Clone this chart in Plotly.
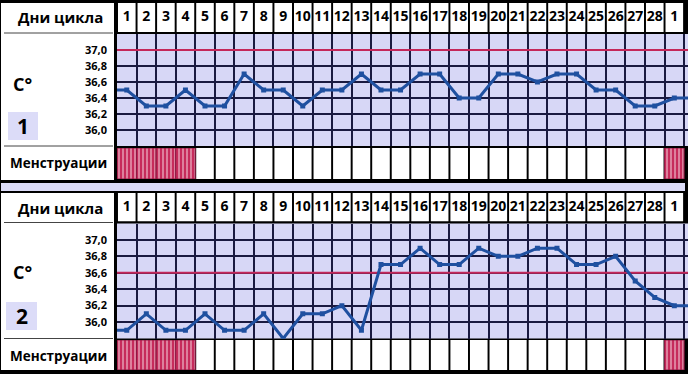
import plotly.graph_objects as go

W, H = 688, 374

# ---------------- data ----------------
day_labels = ["1", "2", "3", "4", "5", "6", "7", "8", "9", "10", "11", "12", "13", "14",
              "15", "16", "17", "18", "19", "20", "21", "22", "23", "24", "25", "26",
              "27", "28", "1"]
temps1 = [36.5, 36.3, 36.3, 36.5, 36.3, 36.3, 36.7, 36.5, 36.5, 36.3, 36.5, 36.5, 36.7, 36.5,
          36.5, 36.7, 36.7, 36.4, 36.4, 36.7, 36.7, 36.6, 36.7, 36.7, 36.5, 36.5, 36.3, 36.3, 36.4]
temps2 = [35.9, 36.1, 35.9, 35.9, 36.1, 35.9, 35.9, 36.1, 35.8, 36.1, 36.1, 36.2, 35.9, 36.7,
          36.7, 36.9, 36.7, 36.7, 36.9, 36.8, 36.8, 36.9, 36.9, 36.7, 36.7, 36.8, 36.5, 36.3, 36.2]
menses1 = [1, 1, 1, 1, 0, 0, 0, 0, 0, 0, 0, 0, 0, 0, 0, 0, 0, 0, 0, 0, 0, 0, 0, 0, 0, 0, 0, 0, 1]
menses2 = [1, 1, 1, 1, 0, 0, 0, 0, 0, 0, 0, 0, 0, 0, 0, 0, 0, 0, 0, 0, 0, 0, 0, 0, 0, 0, 0, 0, 1]
tick_vals = [35.8, 36.0, 36.2, 36.4, 36.6, 36.8, 37.0, 37.2]
tick_text = ["", "36,0", "36,2", "36,4", "36,6", "36,8", "37,0", ""]
cover1 = 37.0
cover2 = 36.6
panel_names = ["1", "2"]
header_title = "Дни цикла"
temp_title = "C°"
mens_title = "Менструации"

# ---------------- style ----------------
LAV = "#d7d7f6"
LAV2 = "#dcdcf8"
GRID = "#1a1a40"
RED = "#c4275a"
BLUE = "#1f50a0"
CRIMSON = "#c62b5b"
FONT = "Open Sans"

positions = list(range(1, len(day_labels) + 1))
X_RANGE = [0.5, len(day_labels) + 0.7]
X_DOM = [117 / W, 1.0]


def ydom(top, bottom):
    return [1 - bottom / H, 1 - top / H]


def py(p):
    return 1 - p / H


def pxx(p):
    return p / W


panels = [
    dict(temps=temps1, menses=menses1, cover=cover1, name=panel_names[0],
         header=(3, 32), temp=(34, 146), mens=(148, 179), area=(3, 180),
         ax_t=1, ax_h=3, ax_m=4,
         y_head=17, y_c=84, y_num=126, box=(8, 38, 112, 140), y_mens=163),
    dict(temps=temps2, menses=menses2, cover=cover2, name=panel_names[1],
         header=(193, 221.5), temp=(223.5, 338.5), mens=(340, 370), area=(193, 370),
         ax_t=2, ax_h=5, ax_m=6,
         y_head=208, y_c=272, y_num=316, box=(6, 37, 302, 330), y_mens=356),
]

fig = go.Figure()
shapes = []
annotations = []
layout_axes = {}


def axname(i, letter):
    return letter if i == 1 else f"{letter}{i}"


for p in panels:
    t, h, m = p["ax_t"], p["ax_h"], p["ax_m"]
    xt, yt = axname(t, "x"), axname(t, "y")
    xh, yh = axname(h, "x"), axname(h, "y")
    xm, ym = axname(m, "x"), axname(m, "y")

    # temperature axes
    layout_axes[axname(t, "xaxis")] = dict(
        domain=X_DOM, range=X_RANGE, anchor=yt, showgrid=True, tick0=0.5, dtick=1,
        gridcolor=GRID, gridwidth=2, showticklabels=False, zeroline=False, ticks="",
        showline=False, fixedrange=True, **({} if t == 1 else dict(matches="x")))
    layout_axes[axname(t, "yaxis")] = dict(
        domain=ydom(*p["temp"]), range=[tick_vals[0], tick_vals[-1]], anchor=xt,
        tickvals=tick_vals, ticktext=tick_text, showgrid=True, gridcolor=GRID, gridwidth=2,
        zeroline=False, ticks="", showline=False, ticklabelstandoff=9,
        tickfont=dict(family=FONT, size=11, color="black", weight="bold"), fixedrange=True)
    # header / menstruation axes
    for xa, ya, ai, dom in [(xh, yh, h, p["header"]), (xm, ym, m, p["mens"])]:
        layout_axes[axname(ai, "xaxis")] = dict(
            domain=X_DOM, range=X_RANGE, anchor=ya, matches="x", visible=False,
            showgrid=False, fixedrange=True)
        layout_axes[axname(ai, "yaxis")] = dict(
            domain=ydom(*dom), range=[0, 1], anchor=xa, visible=False, showgrid=False,
            fixedrange=True)

    # lavender temperature background
    shapes.append(dict(type="rect", xref="paper", yref="paper",
                       x0=X_DOM[0], x1=X_DOM[1], y0=ydom(*p["temp"])[0], y1=ydom(*p["temp"])[1],
                       fillcolor=LAV, line_width=0, layer="below"))

    # white label area on the left
    a0, a1 = p["area"]
    shapes.append(dict(type="rect", xref="paper", yref="paper", x0=pxx(1), x1=pxx(114),
                       y0=py(a1), y1=py(a0), fillcolor="white", line_width=0, layer="below"))
    # separators in label area
    for yy in (p["header"][1] + 1, p["temp"][1]):
        shapes.append(dict(type="line", xref="paper", yref="paper", x0=pxx(4), x1=pxx(113),
                           y0=py(yy), y1=py(yy), line=dict(color="#444444", width=1),
                           layer="below"))
    # number box
    bx0, bx1, by0, by1 = p["box"]
    shapes.append(dict(type="rect", xref="paper", yref="paper", x0=pxx(bx0), x1=pxx(bx1),
                       y0=py(by1), y1=py(by0), fillcolor=LAV2, line_width=0, layer="below"))

    # header cells
    fig.add_trace(go.Bar(x=positions, y=[1] * len(positions), width=0.9, base=0,
                         marker=dict(color="white", line_width=0),
                         xaxis=xh, yaxis=yh, hoverinfo="skip", showlegend=False))
    fig.add_trace(go.Scatter(x=positions, y=[0.5] * len(positions), mode="text",
                             text=day_labels,
                             textfont=dict(family=FONT, size=14, color="black", weight="bold"),
                             xaxis=xh, yaxis=yh, hoverinfo="skip", showlegend=False,
                             cliponaxis=False))
    # menstruation cells
    mens = p["menses"]
    fig.add_trace(go.Bar(
        x=positions, y=[1] * len(positions), base=0,
        width=[1.0 if v else 0.9 for v in mens],
        marker=dict(color=[CRIMSON if v else "white" for v in mens],
                    line=dict(color="#8d1a44", width=[1 if v else 0 for v in mens]),
                    pattern=dict(shape=["|" if v else "" for v in mens], fgcolor="white",
                                 size=4, solidity=0.4, fillmode="overlay")),
        xaxis=xm, yaxis=ym, hoverinfo="skip", showlegend=False))

    # cover (red) line
    fig.add_trace(go.Scatter(
        x=X_RANGE, y=[p["cover"], p["cover"]], mode="lines",
        line=dict(color=RED, width=2), xaxis=xt, yaxis=yt,
        hoverinfo="skip", showlegend=False))

    # temperature curve (extended flat to the grid edges)
    temps = p["temps"]
    fig.add_trace(go.Scatter(
        x=[X_RANGE[0]] + positions + [X_RANGE[1]],
        y=[temps[0]] + temps + [temps[-1]],
        mode="lines", line=dict(color=BLUE, width=3), xaxis=xt, yaxis=yt,
        hoverinfo="skip", showlegend=False))
    fig.add_trace(go.Scatter(
        x=positions, y=temps, mode="markers",
        marker=dict(color=BLUE, size=5, symbol="square"), xaxis=xt, yaxis=yt,
        hoverinfo="skip", showlegend=False))

    # label texts
    ann = dict(xref="paper", yref="paper", showarrow=False, xanchor="center",
               yanchor="middle")
    annotations += [
        dict(text=header_title, x=pxx(60), y=py(p["y_head"]),
             font=dict(family=FONT, size=15, color="black", weight="bold"), **ann),
        dict(text=temp_title, x=pxx(23), y=py(p["y_c"]),
             font=dict(family=FONT, size=18, color="black", weight="bold"), **ann),
        dict(text=p["name"], x=pxx((bx0 + bx1) / 2), y=py((by0 + by1) / 2),
             font=dict(family=FONT, size=21, color="black", weight="bold"), **ann),
        dict(text=mens_title, x=pxx(58), y=py(p["y_mens"]),
             font=dict(family=FONT, size=13.5, color="black", weight="bold"), **ann),
    ]

# lavender band between the panels
shapes.append(dict(type="rect", xref="paper", yref="paper", x0=pxx(1), x1=pxx(685),
                   y0=py(191), y1=py(183), fillcolor=LAV2, line_width=0, layer="below"))

fig.update_layout(
    width=W, height=H, margin=dict(l=0, r=0, t=0, b=0),
    paper_bgcolor="black", plot_bgcolor="rgba(0,0,0,0)",
    showlegend=False, shapes=shapes, annotations=annotations, **layout_axes)

fig.write_html("out.html", config={"displayModeBar": False},
               post_script="document.body.style.margin='0';"
                           "document.body.style.overflow='hidden';")
